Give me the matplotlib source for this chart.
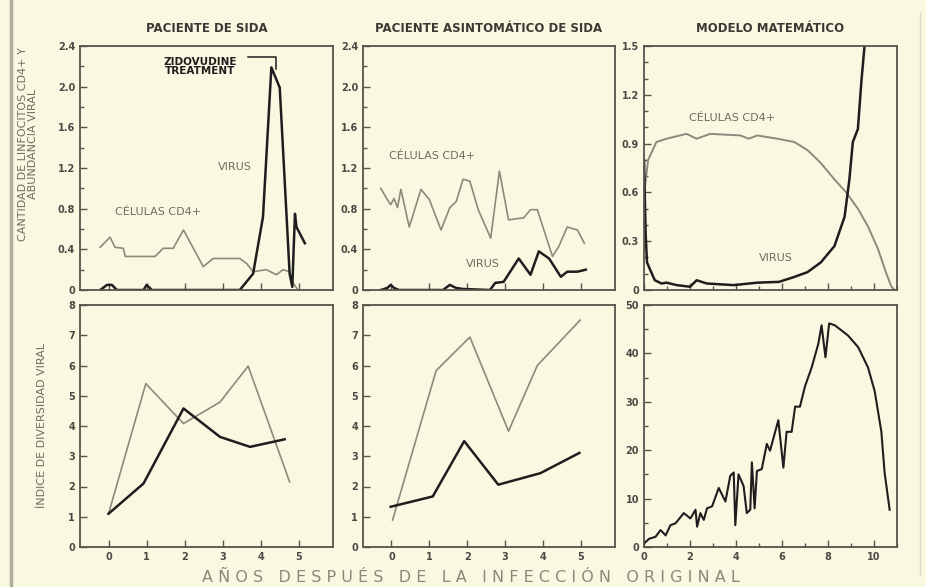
import matplotlib
matplotlib.use('Agg')
from matplotlib import pyplot as plt
from matplotlib.ticker import MultipleLocator

plt.rcParams['font.family'] = ['Liberation Sans Narrow', 'DejaVu Sans']

# --- datos ---
# paciente de sida (arriba izquierda)
sida_cd4_x = [-0.22, 0.04, 0.17, 0.39, 0.44, 1.22, 1.44, 1.70, 1.97, 2.49, 2.75, 3.45, 3.63, 3.80,
              4.15, 4.41, 4.59, 4.76, 4.85, 4.98]
sida_cd4_y = [0.42, 0.52, 0.42, 0.41, 0.33, 0.33, 0.41, 0.41, 0.59, 0.23, 0.31, 0.31, 0.26, 0.18,
              0.20, 0.15, 0.20, 0.18, 0.07, 0.0]
sida_vir_x = [-0.22, -0.04, 0.09, 0.22, 0.92, 1.0, 1.14, 3.45, 3.80, 4.06, 4.28, 4.50, 4.76, 4.83,
              4.90, 4.94, 5.16]
sida_vir_y = [0.0, 0.05, 0.05, 0.0, 0.0, 0.05, 0.0, 0.0, 0.16, 0.72, 2.19, 1.99, 0.16, 0.03,
              0.75, 0.62, 0.46]

# paciente asintomatico (arriba centro)
asin_cd4_x = [-0.28, -0.11, -0.02, 0.07, 0.16, 0.25, 0.47, 0.78, 1.00, 1.31, 1.54, 1.71, 1.89, 2.07,
              2.29, 2.62, 2.85, 3.09, 3.49, 3.67, 3.85, 4.25, 4.42, 4.64, 4.91, 5.09]
asin_cd4_y = [1.00, 0.89, 0.84, 0.90, 0.81, 0.99, 0.62, 0.99, 0.89, 0.59, 0.81, 0.87, 1.09, 1.07,
              0.79, 0.51, 1.17, 0.69, 0.71, 0.79, 0.79, 0.33, 0.43, 0.62, 0.59, 0.46]
asin_vir_x = [-0.28, -0.11, -0.02, 0.07, 0.20, 1.36, 1.54, 1.71, 1.89, 2.60, 2.74, 2.96, 3.36, 3.67,
              3.89, 4.16, 4.47, 4.64, 4.91, 5.13]
asin_vir_y = [0.0, 0.02, 0.05, 0.02, 0.0, 0.0, 0.05, 0.02, 0.01, 0.0, 0.07, 0.08, 0.31, 0.15,
              0.38, 0.31, 0.13, 0.18, 0.18, 0.20]

# modelo matematico (arriba derecha)
mod_cd4_x = [0.0, 0.03, 0.18, 0.54, 0.98, 1.85, 2.29, 2.88, 4.19, 4.55, 4.92, 5.80, 6.53, 7.11,
             7.69, 8.28, 8.79, 9.30, 9.74, 10.18, 10.54, 10.76, 10.9]
mod_cd4_y = [0.58, 0.62, 0.80, 0.91, 0.93, 0.96, 0.93, 0.96, 0.95, 0.93, 0.95, 0.93, 0.91, 0.86,
             0.78, 0.68, 0.60, 0.50, 0.39, 0.25, 0.10, 0.02, 0.0]
mod_vir_x = [0.0, 0.01, 0.07, 0.13, 0.25, 0.47, 0.76, 0.98, 1.42, 2.00, 2.29, 2.73, 3.90, 4.92,
             5.87, 6.53, 7.11, 7.69, 8.28, 8.72, 8.93, 9.08, 9.30, 9.45, 9.62]
mod_vir_y = [0.80, 0.74, 0.35, 0.17, 0.13, 0.06, 0.04, 0.045, 0.03, 0.02, 0.06, 0.04, 0.03, 0.045,
             0.05, 0.08, 0.11, 0.17, 0.27, 0.45, 0.68, 0.91, 0.99, 1.28, 1.55]

# indice de diversidad viral (abajo)
div_sida_gris_x = [0.0, 0.98, 1.97, 2.93, 3.67, 4.76]
div_sida_gris_y = [1.10, 5.40, 4.08, 4.79, 5.98, 2.15]
div_sida_neg_x = [0.0, 0.92, 1.97, 2.93, 3.72, 4.63]
div_sida_neg_y = [1.10, 2.10, 4.58, 3.64, 3.31, 3.56]

div_asin_gris_x = [0.03, 1.18, 2.07, 3.09, 3.85, 4.98]
div_asin_gris_y = [0.89, 5.83, 6.94, 3.83, 6.00, 7.50]
div_asin_neg_x = [-0.02, 1.09, 1.92, 2.82, 3.93, 4.96]
div_asin_neg_y = [1.33, 1.67, 3.50, 2.06, 2.44, 3.11]

div_mod_x = [0.0, 0.22, 0.5, 0.72, 0.94, 1.15, 1.37, 1.73, 2.02, 2.24, 2.31, 2.45, 2.6, 2.74, 2.96,
             3.25, 3.54, 3.75, 3.9, 3.97, 4.11, 4.33, 4.47, 4.62, 4.69, 4.81, 4.91, 5.12, 5.34,
             5.48, 5.84, 6.06, 6.2, 6.42, 6.57, 6.78, 7.0, 7.29, 7.58, 7.72, 7.89, 8.05, 8.3,
             8.87, 9.31, 9.74, 10.03, 10.32, 10.46, 10.68]
div_mod_y = [0.7, 1.7, 2.1, 3.5, 2.4, 4.5, 4.9, 7.0, 5.9, 7.7, 4.2, 7.0, 5.6, 8.0, 8.4, 12.2, 9.4,
             14.7, 15.4, 4.5, 15.0, 12.6, 7.0, 7.7, 17.5, 8.0, 15.7, 16.1, 21.3, 19.9, 26.2, 16.4,
             23.8, 23.8, 29.0, 29.0, 33.2, 37.1, 42.0, 45.8, 39.2, 46.2, 45.8, 43.7, 41.3, 37.1,
             32.2, 23.8, 15.4, 7.7]

titles = ['PACIENTE DE SIDA', 'PACIENTE ASINTOMÁTICO DE SIDA', 'MODELO MATEMÁTICO']

bg = '#fbf8e2'
black = '#1e1e1e'
gray = '#8c8a7c'
txt = '#6e6c62'

fig = plt.figure(figsize=(9.26, 5.87), dpi=100, facecolor=bg)
W, H = 926.0, 587.0


def add_ax(x0, y0, x1, y1):
    ax = fig.add_axes([x0 / W, 1 - y1 / H, (x1 - x0) / W, (y1 - y0) / H])
    ax.set_facecolor(bg)
    for s in ax.spines.values():
        s.set_color('#55554c')
        s.set_linewidth(1.3)
    ax.tick_params(direction='in', which='both', colors='#55554c', labelcolor='#4a4a44',
                   labelsize=7, width=1)
    ax.tick_params(which='major', length=5)
    ax.tick_params(which='minor', length=3)
    return ax


cols = [(80, 333), (363, 615), (644, 897)]
top = [add_ax(c[0], 46, c[1], 290) for c in cols]
bot = [add_ax(c[0], 305, c[1], 547) for c in cols]

for ax, t in zip(top, titles):
    ax.set_title(t, fontsize=8.5, fontweight='bold', color='#3a3a34', pad=10)

# arriba
for ax in top[:2]:
    ax.set_xlim(-0.75, 5.9)
    ax.set_ylim(0, 2.4)
    ax.yaxis.set_major_locator(MultipleLocator(0.4))
    ax.yaxis.set_minor_locator(MultipleLocator(0.2))
    ax.set_yticks([0, 0.4, 0.8, 1.2, 1.6, 2.0, 2.4])
    ax.set_yticklabels(['0', '0.4', '0.8', '1.2', '1.6', '2.0', '2.4'])
    ax.set_xticks(range(6))
    ax.tick_params(axis='x', labelbottom=False)

top[2].set_xlim(0, 11)
top[2].set_ylim(0, 1.5)
top[2].set_yticks([0, 0.3, 0.6, 0.9, 1.2, 1.5])
top[2].set_yticklabels(['0', '0.3', '0.6', '0.9', '1.2', '1.5'])
top[2].yaxis.set_minor_locator(MultipleLocator(0.1))
top[2].xaxis.set_major_locator(MultipleLocator(2))
top[2].xaxis.set_minor_locator(MultipleLocator(1))
top[2].tick_params(axis='x', labelbottom=False)

top[0].plot(sida_cd4_x, sida_cd4_y, color=gray, lw=1.2)
top[0].plot(sida_vir_x, sida_vir_y, color=black, lw=1.8)
top[1].plot(asin_cd4_x, asin_cd4_y, color=gray, lw=1.2)
top[1].plot(asin_vir_x, asin_vir_y, color=black, lw=1.8)
top[2].plot(mod_cd4_x, mod_cd4_y, color=gray, lw=1.4)
top[2].plot(mod_vir_x, mod_vir_y, color=black, lw=1.8, clip_on=True)

top[0].text(3.32, 1.21, 'VIRUS', color=txt, fontsize=8, ha='center', va='center')
top[0].text(1.31, 0.77, 'CÉLULAS CD4+', color=txt, fontsize=8, ha='center', va='center')
top[0].text(2.4, 2.2, 'ZIDOVUDINE\nTREATMENT', color=black, fontsize=7.5, fontweight='bold',
            ha='center', va='center', linespacing=0.95)
top[0].plot([3.67, 4.41, 4.41], [2.29, 2.29, 2.17], color=black, lw=1.1)
top[1].text(1.07, 1.32, 'CÉLULAS CD4+', color=txt, fontsize=8, ha='center', va='center')
top[1].text(2.41, 0.26, 'VIRUS', color=txt, fontsize=8, ha='center', va='center')
top[2].text(3.85, 1.06, 'CÉLULAS CD4+', color=txt, fontsize=8, ha='center', va='center')
top[2].text(5.75, 0.196, 'VIRUS', color=txt, fontsize=8, ha='center', va='center')

# abajo
for ax in bot[:2]:
    ax.set_xlim(-0.75, 5.9)
    ax.set_ylim(0, 8)
    ax.set_yticks(range(9))
    ax.set_xticks(range(6))

bot[2].set_xlim(0, 11)
bot[2].set_ylim(0, 50)
bot[2].yaxis.set_major_locator(MultipleLocator(10))
bot[2].yaxis.set_minor_locator(MultipleLocator(5))
bot[2].xaxis.set_major_locator(MultipleLocator(2))
bot[2].xaxis.set_minor_locator(MultipleLocator(1))

bot[0].plot(div_sida_gris_x, div_sida_gris_y, color=gray, lw=1.2)
bot[0].plot(div_sida_neg_x, div_sida_neg_y, color=black, lw=1.8)
bot[1].plot(div_asin_gris_x, div_asin_gris_y, color=gray, lw=1.2)
bot[1].plot(div_asin_neg_x, div_asin_neg_y, color=black, lw=1.8)
bot[2].plot(div_mod_x, div_mod_y, color=black, lw=1.5)

for ax in top + bot:
    for lab in ax.get_xticklabels() + ax.get_yticklabels():
        lab.set_fontweight('bold')

fig.text(28 / W, 1 - 144 / H, 'CANTIDAD DE LINFOCITOS CD4+ Y\nABUNDANCIA VIRAL', rotation=90,
         ha='center', va='center', fontsize=8, color=txt, linespacing=1.0)
fig.text(42 / W, 1 - 425 / H, 'ÍNDICE DE DIVERSIDAD VIRAL', rotation=90,
         ha='center', va='center', fontsize=8, color=txt)
fig.text(471 / W, 1 - 577 / H,
         'A Ñ O S   D E S P U É S   D E   L A   I N F E C C I Ó N   O R I G I N A L',
         ha='center', va='center', fontsize=11.5, color='#8a887c')

# marco del recorte
fig.add_artist(plt.Line2D([11 / W, 11 / W], [0, 1], color='#b0ae9e', lw=2.5))
fig.add_artist(plt.Line2D([920 / W, 920 / W], [0.02, 0.98], color='#dcd9c4', lw=1))

fig.savefig('out.png', dpi=100, facecolor=bg)
